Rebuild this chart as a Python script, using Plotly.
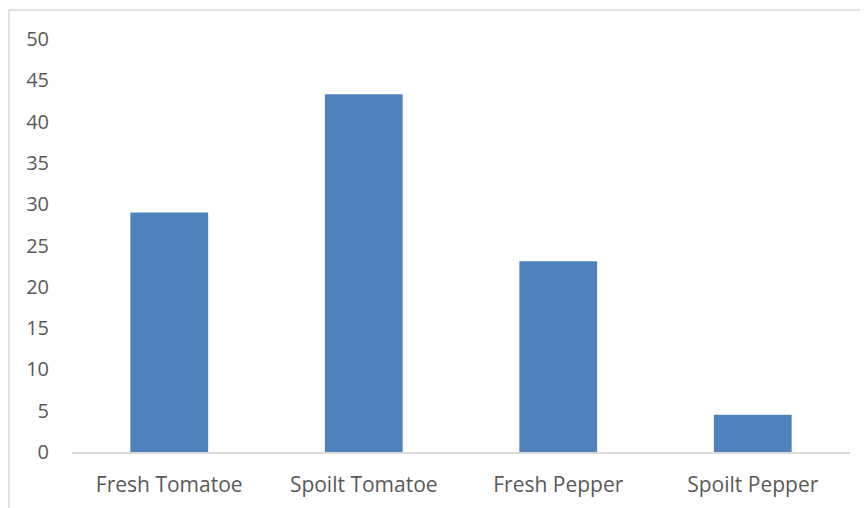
import plotly.graph_objects as go

categories = ["Fresh Tomatoe", "Spoilt Tomatoe", "Fresh Pepper", "Spoilt Pepper"]
values = [29, 43.3, 23.1, 4.5]
y_ticks = [0, 5, 10, 15, 20, 25, 30, 35, 40, 45, 50]

W, H = 860, 500
L, R, T, B = 64, 18, 31, 56

fig = go.Figure(go.Bar(x=categories, y=values, marker=dict(color="#4F81BD", line=dict(width=0)),
                       width=0.4))

font = dict(family="Open Sans, Liberation Sans, sans-serif", size=20, color="#595959")
xfont = dict(family="Open Sans, Liberation Sans, sans-serif", size=21, color="#595959")
pw, ph = W - L - R, H - T - B
fig.update_layout(
    width=W, height=H, margin=dict(l=L, r=R, t=T, b=B),
    paper_bgcolor="white", plot_bgcolor="white", showlegend=False, font=font,
    xaxis=dict(showgrid=False, showline=True, linecolor="#D9D9D9", linewidth=1.5,
               ticks="", tickfont=xfont, ticklabelstandoff=13, zeroline=False, automargin=False),
    yaxis=dict(range=[0, 50], tickvals=y_ticks, showgrid=False, showline=False, zeroline=False,
               ticks="", tickfont=font, ticklabelstandoff=22, automargin=False),
    shapes=[dict(type="rect", xref="paper", yref="paper",
                 x0=(1 - L) / pw, x1=(W + 20 - L) / pw,
                 y0=(H - B - (H + 20)) / ph, y1=(H - B - 2) / ph,
                 line=dict(color="#D9D9D9", width=1.5), fillcolor="rgba(0,0,0,0)", layer="below")],
)
fig.write_html("out.html")
